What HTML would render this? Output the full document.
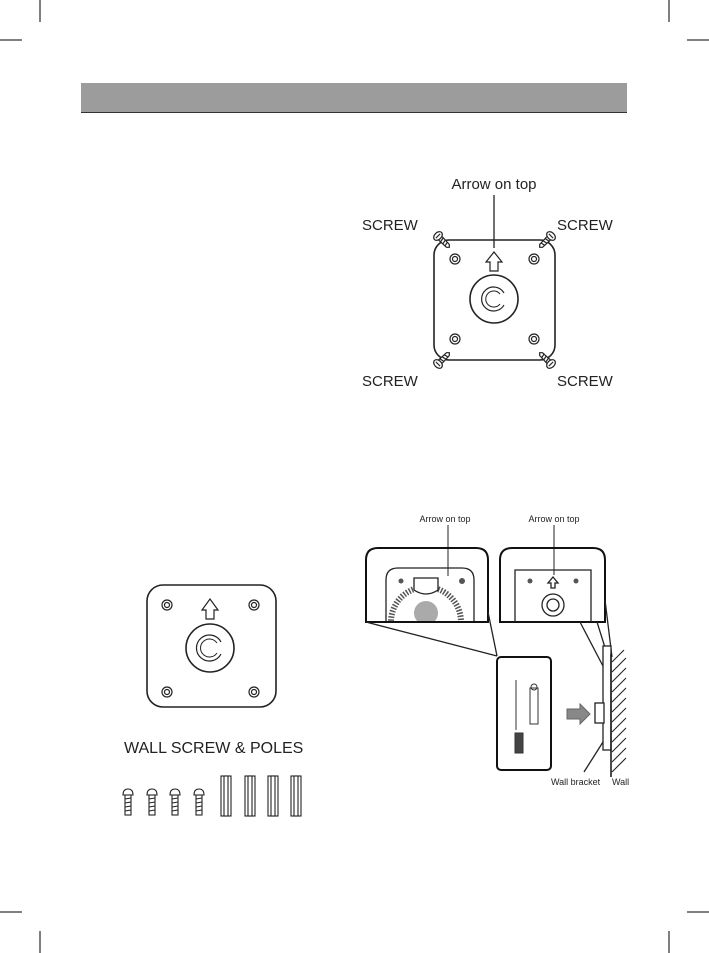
<!DOCTYPE html>
<html><head><meta charset="utf-8"><style>
html,body{margin:0;padding:0;background:#fff;}
svg{display:block;}
text{font-family:"Liberation Sans",sans-serif;fill:#222;}
</style></head><body>
<svg width="709" height="953" viewBox="0 0 709 953" xmlns="http://www.w3.org/2000/svg">
<defs>
<clipPath id="cl"><rect x="366" y="548" width="122" height="74"/></clipPath>
<g id="scr" fill="#fff" stroke="#222" stroke-width="1.2">
<path d="M-2.5 2 L-2 14 L0 16 L2 14 L2.5 2 Z"/>
<line x1="-2.5" y1="6" x2="2.5" y2="5"/><line x1="-2.3" y1="9" x2="2.3" y2="8"/><line x1="-2.1" y1="12" x2="2.1" y2="11"/>
<ellipse cx="0" cy="0" rx="5" ry="3.5"/>
<line x1="-3" y1="0" x2="3" y2="0"/>
</g>
<g id="ws" fill="#fff" stroke="#222" stroke-width="1.1">
<path d="M-5 6 Q-5 0 0 0 Q5 0 5 6 Z"/>
<rect x="-3" y="6" width="6" height="20"/>
<line x1="-3" y1="10" x2="3" y2="9"/><line x1="-3" y1="14" x2="3" y2="13"/><line x1="-3" y1="18" x2="3" y2="17"/><line x1="-3" y1="22" x2="3" y2="21"/>
</g>
</defs>
<g stroke="#000" stroke-width="1">
<line x1="40" y1="0" x2="40" y2="22"/><line x1="0" y1="40" x2="22" y2="40"/>
<line x1="669" y1="0" x2="669" y2="22"/><line x1="687" y1="40" x2="709" y2="40"/>
<line x1="40" y1="931" x2="40" y2="953"/><line x1="0" y1="912" x2="22" y2="912"/>
<line x1="669" y1="931" x2="669" y2="953"/><line x1="687" y1="912" x2="709" y2="912"/>
</g>
<rect x="81" y="83" width="546" height="29" fill="#9c9c9c"/>
<line x1="81" y1="112.5" x2="627" y2="112.5" stroke="#333" stroke-width="1"/>

<!-- top bracket -->
<text x="494" y="189" font-size="15" text-anchor="middle">Arrow on top</text>
<line x1="494" y1="195" x2="494" y2="248" stroke="#222" stroke-width="1.3"/>
<g fill="none" stroke="#222" stroke-width="1.6">
<rect x="434" y="240" width="121" height="120" rx="15"/>
</g>
<g fill="none" stroke="#222" stroke-width="1.2">
<circle cx="455" cy="259" r="5"/><circle cx="455" cy="259" r="2.5"/>
<circle cx="534" cy="259" r="5"/><circle cx="534" cy="259" r="2.5"/>
<circle cx="455" cy="339" r="5"/><circle cx="455" cy="339" r="2.5"/>
<circle cx="534" cy="339" r="5"/><circle cx="534" cy="339" r="2.5"/>
<circle cx="494" cy="299" r="24" stroke-width="1.6"/>
<path d="M504 293 A12 12 0 1 0 504 305"/>
<path d="M500 294 A8 8 0 1 0 500 304" stroke-width="1"/>
<path d="M490 271 L490 262 L486 262 L494 252 L502 262 L498 262 L498 271 Z"/>
</g>
<use href="#scr" transform="translate(438,236) rotate(-45)"/>
<use href="#scr" transform="translate(551,236) rotate(45)"/>
<use href="#scr" transform="translate(438,364) rotate(-135)"/>
<use href="#scr" transform="translate(551,364) rotate(135)"/>
<g font-size="15">
<text x="362" y="230">SCREW</text><text x="557" y="230">SCREW</text>
<text x="362" y="386">SCREW</text><text x="557" y="386">SCREW</text>
</g>

<!-- bottom-left bracket -->
<g fill="none" stroke="#222" stroke-width="1.2">
<rect x="147" y="585" width="129" height="122" rx="16" stroke-width="1.6"/>
<circle cx="167" cy="605" r="5"/><circle cx="167" cy="605" r="2.5"/>
<circle cx="254" cy="605" r="5"/><circle cx="254" cy="605" r="2.5"/>
<circle cx="167" cy="692" r="5"/><circle cx="167" cy="692" r="2.5"/>
<circle cx="254" cy="692" r="5"/><circle cx="254" cy="692" r="2.5"/>
<circle cx="210" cy="648" r="24" stroke-width="1.6"/>
<path d="M221 642 A13 13 0 1 0 221 654"/>
<path d="M217 643 A9 9 0 1 0 217 653" stroke-width="1"/>
<path d="M206 619 L206 610 L202 610 L210 599 L218 610 L214 610 L214 619 Z"/>
</g>
<text x="124" y="753" font-size="16">WALL SCREW &amp; POLES</text>
<use href="#ws" transform="translate(128,789)"/>
<use href="#ws" transform="translate(152,789)"/>
<use href="#ws" transform="translate(175,789)"/>
<use href="#ws" transform="translate(199,789)"/>
<g fill="#fff" stroke="#222" stroke-width="1.1">
<rect x="221" y="776" width="10" height="40"/><rect x="224" y="776" width="4" height="40"/>
<rect x="245" y="776" width="10" height="40"/><rect x="248" y="776" width="4" height="40"/>
<rect x="268" y="776" width="10" height="40"/><rect x="271" y="776" width="4" height="40"/>
<rect x="291" y="776" width="10" height="40"/><rect x="294" y="776" width="4" height="40"/>
</g>

<!-- bottom-right -->
<g font-size="9">
<text x="445" y="522" text-anchor="middle">Arrow on top</text>
<text x="554" y="522" text-anchor="middle">Arrow on top</text>
<text x="551" y="785">Wall bracket</text>
<text x="612" y="785">Wall</text>
</g>
<line x1="448" y1="525" x2="448" y2="576" stroke="#222"/>
<line x1="554" y1="525" x2="554" y2="575" stroke="#222"/>
<g clip-path="url(#cl)">
<g fill="none" stroke="#222" stroke-width="1.3">
<path d="M386 622 L386 580 Q386 568 398 568 L462 568 Q474 568 474 580 L474 622"/>
<circle cx="426" cy="622" r="35" stroke-dasharray="1.5 1.5" stroke-width="6" stroke="#555"/>
<path d="M414 590 L414 578 L438 578 L438 590 Q426 598 414 590" fill="#fff"/>
</g>
<circle cx="426" cy="613" r="12" fill="#aaa"/>
</g>
<g fill="none" stroke="#111" stroke-width="2">
<path d="M366 622 L366 560 Q366 548 378 548 L476 548 Q488 548 488 560 L488 622 Z"/>
<path d="M500 622 L500 560 Q500 548 512 548 L593 548 Q605 548 605 560 L605 622 Z"/>
</g>
<g fill="none" stroke="#222" stroke-width="1.3">
<path d="M515 622 L515 570 L591 570 L591 622"/>
<circle cx="553" cy="605" r="11"/><circle cx="553" cy="605" r="6"/>
<path d="M551 588 L551 583 L548 583 L553 577 L558 583 L555 583 L555 588 Z"/>
<line x1="366" y1="622" x2="497" y2="656"/>
<line x1="488" y1="612" x2="497" y2="656"/>
<line x1="580" y1="622" x2="604" y2="668"/>
<line x1="597" y1="622" x2="608" y2="657"/>
<line x1="605" y1="600" x2="612" y2="657"/>
<line x1="603" y1="742" x2="584" y2="772"/>
</g>
<circle cx="401" cy="581" r="2.5" fill="#555"/><circle cx="462" cy="581" r="3" fill="#555"/>
<circle cx="530" cy="581" r="2.5" fill="#555"/><circle cx="576" cy="581" r="2.5" fill="#555"/>
<g fill="none" stroke="#111" stroke-width="2">
<rect x="497" y="657" width="54" height="113" rx="4"/>
</g>
<g fill="none" stroke="#333" stroke-width="1">
<line x1="516" y1="680" x2="516" y2="730"/>
<rect x="530" y="688" width="8" height="36"/>
<rect x="515" y="733" width="8" height="20" fill="#444"/>
<circle cx="534" cy="687" r="3"/>
</g>
<g fill="#fff" stroke="#222" stroke-width="1.3">
<rect x="603" y="646" width="8" height="104"/>
<rect x="595" y="703" width="9" height="20"/>
</g>
<line x1="611" y1="654" x2="611" y2="777" stroke="#111" stroke-width="1.5"/>
<g stroke="#222" stroke-width="1.1">
<line x1="612" y1="662" x2="624" y2="650"/><line x1="612" y1="672" x2="626" y2="658"/>
<line x1="612" y1="682" x2="626" y2="668"/><line x1="612" y1="692" x2="626" y2="678"/>
<line x1="612" y1="702" x2="626" y2="688"/><line x1="612" y1="712" x2="626" y2="698"/>
<line x1="612" y1="722" x2="626" y2="708"/><line x1="612" y1="732" x2="626" y2="718"/>
<line x1="612" y1="742" x2="626" y2="728"/><line x1="612" y1="752" x2="626" y2="738"/>
<line x1="612" y1="762" x2="626" y2="748"/><line x1="612" y1="772" x2="626" y2="758"/>
</g>
<path d="M567 709 L580 709 L580 704 L590 714 L580 724 L580 719 L567 719 Z" fill="#888" stroke="#666"/>
</svg>
</body></html>
